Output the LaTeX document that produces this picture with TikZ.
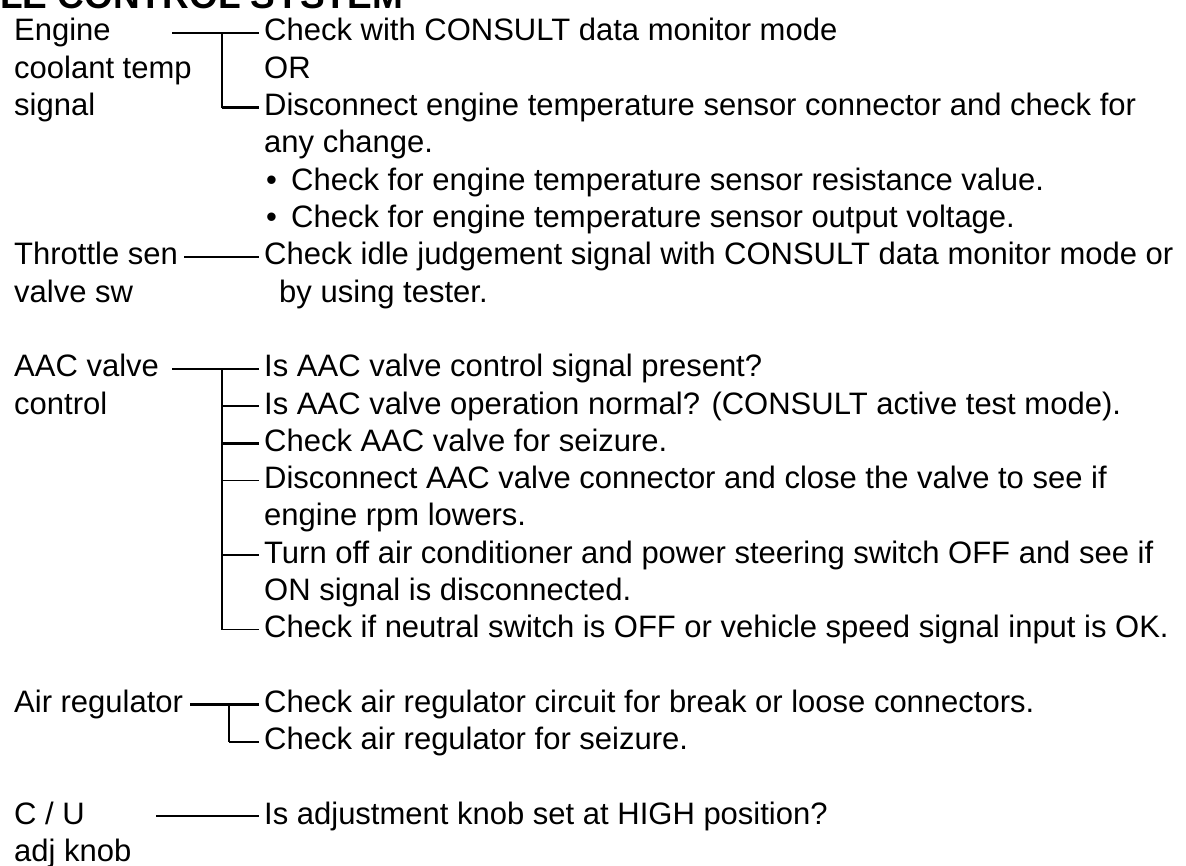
\documentclass[tikz,border=0pt]{standalone}
\usepackage{fontspec}
\setmainfont{Liberation Sans}
\begin{document}
\begin{tikzpicture}[x=1pt,y=-1pt,
  txt/.style={anchor=base west,inner sep=0pt,font=\fontsize{31}{37}\selectfont},
  hd/.style={anchor=base west,inner sep=0pt,font=\fontsize{37}{42}\selectfont\bfseries},
  ln/.style={line width=2.2pt,shorten >=5pt},
  lnthin/.style={line width=1.2pt,shorten >=5pt},
  stem/.style={line width=2.2pt}]
\useasboundingbox (0,0) rectangle (1186,866);
\fill[white] (0,0) rectangle (1186,866);
\clip (0,0) rectangle (1186,866);
% row k: line y = 33+37.3k, baseline = 41+37.3k
\node[hd] (hdr) at (-37,9) {IDLE CONTROL SYSTEM};
% left labels
\node[txt] (L0) at (14,{41+37.3*0}) {Engine};
\node[txt] (L1) at (14,{41+37.3*1}) {coolant temp};
\node[txt] (L2) at (14,{41+37.3*2}) {signal};
\node[txt] (L6) at (14,{41+37.3*6}) {Throttle sen};
\node[txt] (L7) at (14,{41+37.3*7}) {valve sw};
\node[txt] (L9) at (14,{41+37.3*9}) {AAC valve};
\node[txt] (L10) at (14,{41+37.3*10}) {control};
\node[txt] (L18) at (14,{41+37.3*18}) {Air regulator};
\node[txt] (L21) at (14,{41+37.3*21}) {C / U};
\node[txt] (L22) at (14,{41+37.3*22}) {adj knob};
% right column
\node[txt] (c0) at (264,{41+37.3*0}) {Check with CONSULT data monitor mode};
\node[txt] (c1) at (264,{41+37.3*1}) {OR};
\node[txt] (c2) at (264,{41+37.3*2}) {Disconnect engine temperature sensor connector and check for};
\node[txt] (c3) at (264,{41+37.3*3}) {any change.};
\node[txt] (b4) at (266,{41+37.3*4}) {•};
\node[txt] (c4) at (291,{41+37.3*4}) {Check for engine temperature sensor resistance value.};
\node[txt] (b5) at (266,{41+37.3*5}) {•};
\node[txt] (c5) at (291,{41+37.3*5}) {Check for engine temperature sensor output voltage.};
\node[txt] (c6) at (264,{41+37.3*6}) {Check idle judgement signal with CONSULT data monitor mode or};
\node[txt] (c7) at (279,{41+37.3*7}) {by using tester.};
\node[txt] (c9) at (264,{41+37.3*9}) {Is AAC valve control signal present?};
\node[txt] (c10) at (264,{41+37.3*10}) {Is AAC valve operation normal? (CONSULT active test mode).};
\node[txt] (c11) at (264,{41+37.3*11}) {Check AAC valve for seizure.};
\node[txt] (c12) at (264,{41+37.3*12}) {Disconnect AAC valve connector and close the valve to see if};
\node[txt] (c13) at (264,{41+37.3*13}) {engine rpm lowers.};
\node[txt] (c14) at (264,{41+37.3*14}) {Turn off air conditioner and power steering switch OFF and see if};
\node[txt] (c15) at (264,{41+37.3*15}) {ON signal is disconnected.};
\node[txt] (c16) at (264,{41+37.3*16}) {Check if neutral switch is OFF or vehicle speed signal input is OK.};
\node[txt] (c18) at (264,{41+37.3*18}) {Check air regulator circuit for break or loose connectors.};
\node[txt] (c19) at (264,{41+37.3*19}) {Check air regulator for seizure.};
\node[txt] (c21) at (264,{41+37.3*21}) {Is adjustment knob set at HIGH position?};
% junction coordinates
\coordinate (e0) at (172,{33+37.3*0});
\coordinate (ej0) at (222,{33+37.3*0});
\coordinate (ej2) at (222,{33+37.3*2});
\coordinate (t0) at (184,{33+37.3*6});
\coordinate (a0) at (172,{33+37.3*9});
\coordinate (aj9) at (222,{33+37.3*9});
\coordinate (aj10) at (222,{33+37.3*10});
\coordinate (aj11) at (222,{33+37.3*11});
\coordinate (aj12) at (222,{33+37.3*12});
\coordinate (aj14) at (222,{33+37.3*14});
\coordinate (aj16) at (222,{33+37.3*16});
\coordinate (r0) at (190,{33+37.3*18});
\coordinate (rj18) at (229,{33+37.3*18});
\coordinate (rj19) at (229,{33+37.3*19});
\coordinate (u0) at (156,{33+37.3*21});
% connectors
\draw[ln] (e0) -- (c0.west |- e0);
\draw[stem] (ej0) -- (ej2);
\draw[ln] (ej2) -- (c2.west |- ej2);
\draw[ln] (t0) -- (c6.west |- t0);
\draw[ln,line width=1.7pt] (a0) -- (c9.west |- a0);
\draw[stem] (aj9) -- (aj16);
\draw[ln,line width=2.6pt] (aj10) -- (c10.west |- aj10);
\draw[ln,line width=2.6pt] (aj11) -- (c11.west |- aj11);
\draw[lnthin] (aj12) -- (c12.west |- aj12);
\draw[ln] (aj14) -- (c14.west |- aj14);
\draw[lnthin] (aj16) -- (c16.west |- aj16);
\draw[ln] (r0) -- (c18.west |- r0);
\draw[stem] (rj18) -- (rj19);
\draw[ln] (rj19) -- (c19.west |- rj19);
\draw[ln,line width=1.7pt] (u0) -- (c21.west |- u0);
\end{tikzpicture}
\end{document}
